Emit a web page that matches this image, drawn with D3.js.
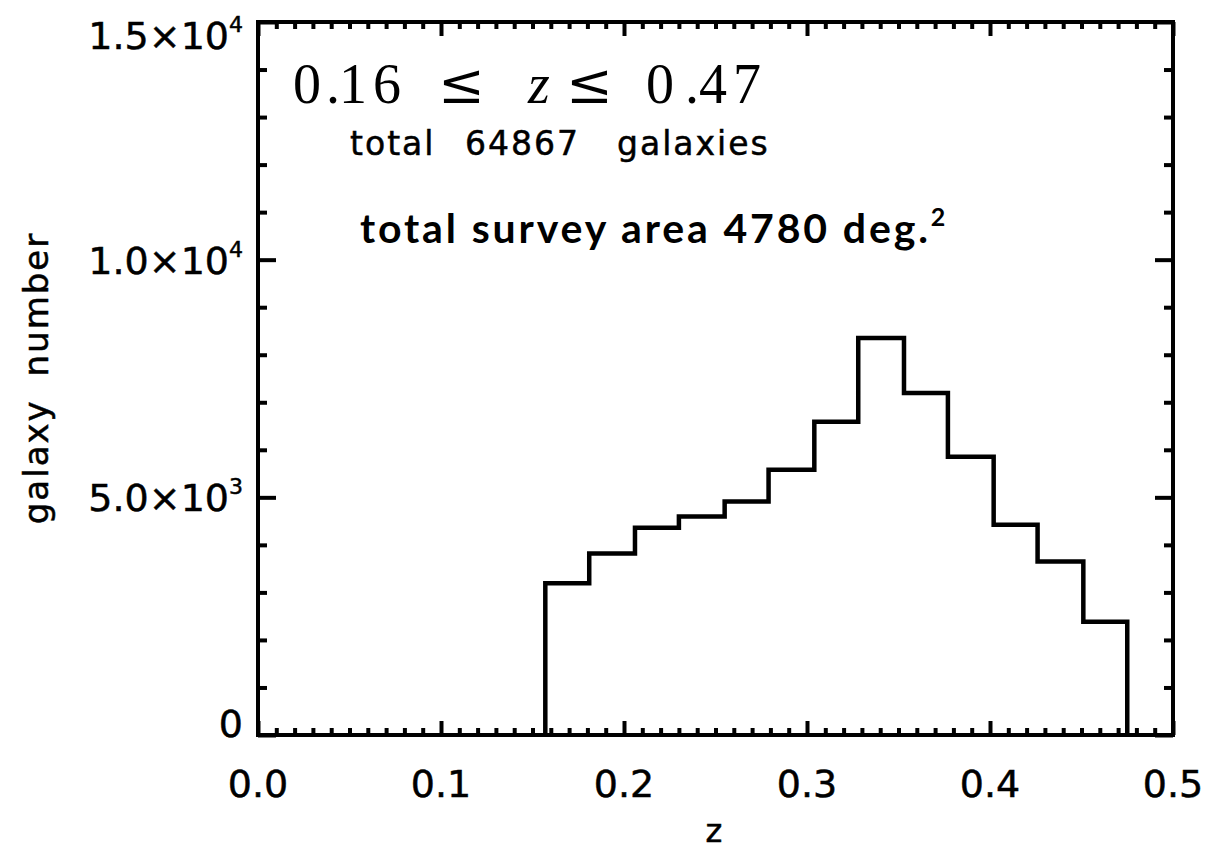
<!DOCTYPE html>
<html>
<head>
<meta charset="utf-8">
<script src="https://cdn.jsdelivr.net/npm/d3@7"></script>
<style>
  body { margin: 0; background: #fff; }
  svg { display: block; }
  .lbl { font-family: "DejaVu Sans", sans-serif; fill: #000; stroke: #000; stroke-width: 0.5px; }
</style>
</head>
<body>
<svg width="1209" height="851"></svg>
<script>
// histogram bin edges (z) and galaxy counts per bin
const binEdges = [0.157, 0.181, 0.206, 0.230, 0.255, 0.279, 0.304, 0.328, 0.353, 0.377, 0.402, 0.426, 0.451, 0.475];
const counts = [3190, 3820, 4360, 4595, 4910, 5580, 6590, 8350, 7195, 5855, 4425, 3650, 2380];

const xTicks = [0.0, 0.1, 0.2, 0.3, 0.4, 0.5];
const xTickLabels = ["0.0", "0.1", "0.2", "0.3", "0.4", "0.5"];
const yTicks = [0, 5000, 10000, 15000];
const yTickLabels = [["0", ""], ["5.0×10", "3"], ["1.0×10", "4"], ["1.5×10", "4"]];

// pieces of the redshift range label and where each one starts
const rangeText = ["0", ".", "16", "≤", "z", "≤", "0", ".", "47"];
const rangeX = [293, 326, 339, 438, 528, 566, 646, 685, 699];

// "total 64867 galaxies" words and their starts
const countWords = ["total", "64867", "galaxies"];
const countX = [350, 465, 617];

const svg = d3.select("svg");
const m = { left: 258, right: 1173, top: 22, bottom: 735 };

const x = d3.scaleLinear().domain([0, 0.5]).range([m.left, m.right]);
const y = d3.scaleLinear().domain([0, 15000]).range([m.bottom, m.top]);

const xMinor = d3.range(0, 51).map(i => i / 100).filter(v => Math.round(v * 100) % 10 !== 0);
const yMinor = d3.range(0, 15001, 1000).filter(v => v % 5000 !== 0);

function drawAxis(axis, tr) {
  const g = svg.append("g").attr("transform", tr).call(axis);
  g.select(".domain").remove();
  g.selectAll("line").attr("stroke", "#000").attr("stroke-width", 4);
  g.selectAll("text").remove();
}

// ticks pointing inward on all four sides
drawAxis(d3.axisBottom(x).tickValues(xTicks).tickSize(-14), `translate(0,${m.bottom})`);
drawAxis(d3.axisBottom(x).tickValues(xMinor).tickSize(-7), `translate(0,${m.bottom})`);
drawAxis(d3.axisTop(x).tickValues(xTicks).tickSize(-14), `translate(0,${m.top})`);
drawAxis(d3.axisTop(x).tickValues(xMinor).tickSize(-7), `translate(0,${m.top})`);
drawAxis(d3.axisLeft(y).tickValues(yTicks).tickSize(-18), `translate(${m.left},0)`);
drawAxis(d3.axisLeft(y).tickValues(yMinor).tickSize(-9), `translate(${m.left},0)`);
drawAxis(d3.axisRight(y).tickValues(yTicks).tickSize(-18), `translate(${m.right},0)`);
drawAxis(d3.axisRight(y).tickValues(yMinor).tickSize(-9), `translate(${m.right},0)`);

// frame
svg.append("rect")
  .attr("x", m.left).attr("y", m.top)
  .attr("width", m.right - m.left).attr("height", m.bottom - m.top)
  .attr("fill", "none").attr("stroke", "#000").attr("stroke-width", 4);

// histogram outline
const pts = [[binEdges[0], 0]];
counts.forEach((c, i) => {
  pts.push([binEdges[i], c]);
  pts.push([binEdges[i + 1], c]);
});
pts.push([binEdges[binEdges.length - 1], 0]);

svg.append("path")
  .attr("d", d3.line().x(d => x(d[0])).y(d => y(d[1]))(pts))
  .attr("fill", "none")
  .attr("stroke", "#000")
  .attr("stroke-width", 4.5)
  .attr("stroke-linejoin", "miter");

// x tick labels
svg.selectAll(".xl").data(xTicks).enter().append("text")
  .attr("class", "lbl")
  .attr("x", d => x(d))
  .attr("y", 797)
  .attr("text-anchor", "middle")
  .attr("font-size", 38)
  .text((d, i) => xTickLabels[i]);

// y tick labels (kept inside the axis span like IDL does)
yTicks.forEach((v, i) => {
  const cy = Math.min(Math.max(y(v), m.top + 13), m.bottom - 12);
  const t = svg.append("text")
    .attr("class", "lbl")
    .attr("x", 243)
    .attr("y", cy + 14)
    .attr("text-anchor", "end")
    .attr("font-size", 38);
  t.append("tspan").text(yTickLabels[i][0]);
  if (yTickLabels[i][1]) {
    t.append("tspan").attr("dy", -17).attr("font-size", 22).text(yTickLabels[i][1]);
  }
});

// axis titles
svg.append("text")
  .attr("class", "lbl")
  .attr("x", 714).attr("y", 842)
  .attr("text-anchor", "middle")
  .attr("font-size", 32)
  .text("z");

svg.append("text")
  .attr("class", "lbl")
  .attr("transform", "translate(48,378) rotate(-90)")
  .attr("text-anchor", "middle")
  .attr("font-size", 34)
  .attr("letter-spacing", 2)
  .attr("word-spacing", 10)
  .text("galaxy number");

// annotations
const rng = svg.append("text")
  .attr("y", 103)
  .attr("font-family", "'Liberation Serif', 'Times New Roman', serif")
  .attr("font-size", 56)
  .attr("fill", "#000");
rangeText.forEach((s, i) => {
  rng.append("tspan")
    .attr("x", rangeX[i])
    .attr("font-style", s === "z" ? "italic" : "normal")
    .attr("font-family", s === "≤" ? "'DejaVu Serif', serif" : null)
    .attr("letter-spacing", s.length > 1 ? 6 : 0)
    .text(s);
});

const cnt = svg.append("text")
  .attr("class", "lbl")
  .attr("y", 155)
  .attr("font-size", 33)
  .attr("letter-spacing", 2)
  .attr("stroke-width", 0.4);
countWords.forEach((w, i) => {
  cnt.append("tspan").attr("x", countX[i]).text(w);
});

const area = svg.append("text")
  .attr("x", 360).attr("y", 243)
  .attr("font-family", "Lato, 'Open Sans', sans-serif")
  .attr("font-weight", "bold")
  .attr("font-size", 41)
  .attr("fill", "#000");
area.append("tspan").attr("textLength", 568).attr("lengthAdjust", "spacing").text("total survey area 4780 deg.");
area.append("tspan").attr("dy", -17).attr("font-size", 25).text("2");
</script>
</body>
</html>
